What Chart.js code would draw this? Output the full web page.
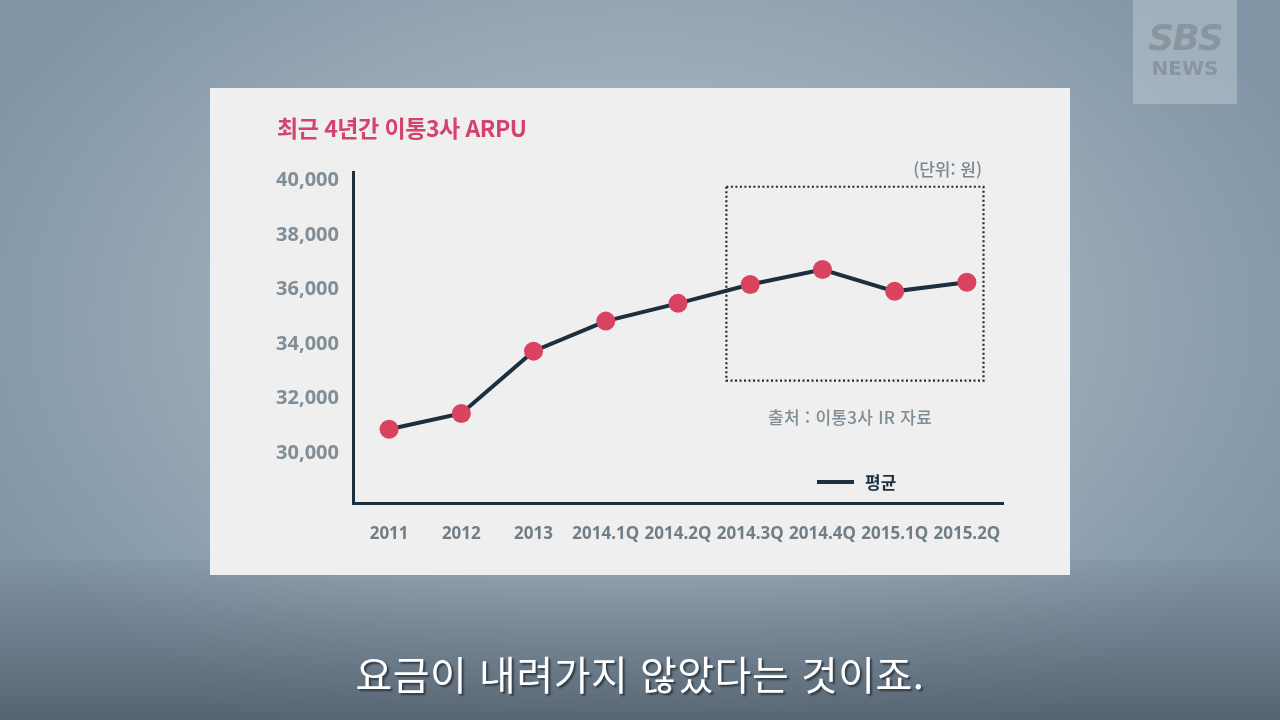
<!DOCTYPE html>
<html lang="ko">
<head>
<meta charset="utf-8">
<script src="https://cdn.jsdelivr.net/npm/chart.js@4"></script>
<style>
  html, body { margin: 0; padding: 0; }
  body {
    width: 1280px; height: 720px; overflow: hidden; position: relative;
    font-family: "Noto Sans CJK KR", "Noto Sans", sans-serif;
    background: radial-gradient(ellipse 720px 480px at 640px 320px, #b6c2cb 0%, #9aabb8 55%, #8295a6 100%);
  }
  .bottom-shade {
    position: absolute; left: 0; top: 560px; width: 1280px; height: 160px;
    background: linear-gradient(to bottom, rgba(90,106,120,0.1) 0%, rgba(80,94,108,0.5) 55%, rgba(70,82,94,0.72) 100%);
  }
  .card {
    position: absolute; left: 210px; top: 88px; width: 860px; height: 487px;
    background: #efeff0;
  }
  canvas { position: absolute; left: 0; top: 0; }
  .title {
    position: absolute; left: 277px; top: 110px; font-size: 23px; font-weight: 700;
    color: #d3436b; letter-spacing: -0.5px;
  }
  .unit {
    position: absolute; right: 298px; top: 156px; font-size: 17px; font-weight: 500; color: #7a8890;
  }
  .source {
    position: absolute; left: 768px; top: 404px; font-size: 17px; font-weight: 500; color: #7f8c94;
    letter-spacing: 0.3px;
  }
  .legend {
    position: absolute; left: 817px; top: 469px; font-size: 17px; font-weight: 700; color: #1d3040;
  }
  .legend span {
    display: inline-block; width: 37px; height: 4px; background: #1d3040;
    vertical-align: middle; margin-right: 11px; position: relative; top: -2px;
  }
  .subtitle {
    position: absolute; left: 0; width: 1280px; top: 644px; text-align: center;
    font-size: 40px; font-weight: 400; color: #ffffff; letter-spacing: 0.5px;
    text-shadow: 2px 2px 2px rgba(30,40,50,0.75);
  }
  .logo {
    position: absolute; left: 1133px; top: 0; width: 104px; height: 104px;
    background: rgba(190,202,210,0.5); text-align: center; color: #8996a0;
  }
  .logo .sbs { font-family: "DejaVu Sans", sans-serif; font-size: 36px; font-weight: 900; font-style: italic; line-height: 36px; margin-top: 20px; letter-spacing: -2px; }
  .logo .news { font-family: "DejaVu Sans", sans-serif; font-size: 20px; font-weight: 700; line-height: 24px; }
</style>
</head>
<body>
<div class="bottom-shade"></div>
<div class="card"></div>
<canvas id="arpuChart" width="1280" height="720"></canvas>
<div class="title">최근 4년간 이통3사 ARPU</div>
<div class="unit">(단위: 원)</div>
<div class="source">출처 : 이통3사 IR 자료</div>
<div class="legend"><span></span>평균</div>
<div class="subtitle">요금이 내려가지 않았다는 것이죠.</div>
<div class="logo"><div class="sbs">SBS</div><div class="news">NEWS</div></div>

<script>
// 데이터
const labels = ['2011', '2012', '2013', '2014.1Q', '2014.2Q', '2014.3Q', '2014.4Q', '2015.1Q', '2015.2Q'];
const arpu = [30880, 31460, 33740, 34840, 35490, 36180, 36730, 35930, 36260];
const yTicks = [30000, 32000, 34000, 36000, 38000, 40000];

// 점선 박스 (2014.3Q ~ 2015.2Q 구간 강조)
const boxRange = { from: '2014.3Q', to: '2015.2Q', top: 39760, bottom: 32660 };

const dottedBox = {
  id: 'dottedBox',
  afterDatasetsDraw(chart) {
    const { ctx, scales: { x, y } } = chart;
    const step = x.getPixelForValue(1) - x.getPixelForValue(0);
    const left = x.getPixelForValue(labels.indexOf(boxRange.from)) - step * 0.33;
    const right = x.getPixelForValue(labels.indexOf(boxRange.to)) + step * 0.23;
    const top = y.getPixelForValue(boxRange.top);
    const bottom = y.getPixelForValue(boxRange.bottom);
    ctx.save();
    ctx.strokeStyle = '#1f2a33';
    ctx.lineWidth = 2.2;
    ctx.setLineDash([2, 2.5]);
    ctx.strokeRect(left, top, right - left, bottom - top);
    ctx.restore();
  }
};

const ctx = document.getElementById('arpuChart').getContext('2d');
const chart = new Chart(ctx, {
  type: 'line',
  data: {
    labels: labels,
    datasets: [{
      label: '평균',
      data: arpu,
      borderColor: '#1b2f3e',
      borderWidth: 4,
      tension: 0,
      pointRadius: 9.5,
      pointBackgroundColor: '#d9435f',
      pointBorderColor: '#d9435f',
      pointBorderWidth: 0
    }]
  },
  options: {
    responsive: false,
    animation: false,
    layout: { padding: { left: 260, right: 277, top: 172, bottom: 160 } },
    plugins: {
      legend: { display: false },
      tooltip: { enabled: false }
    },
    scales: {
      x: {
        offset: true,
        grid: { display: false },
        border: { display: true, color: '#1b2f3e', width: 3 },
        ticks: {
          color: '#707e87',
          padding: 13,
          maxRotation: 0,
          autoSkip: false,
          font: { family: 'Noto Sans', size: 17, weight: '700' }
        },
        afterFit(scale) { scale.height = 57; }
      },
      y: {
        min: 28180,
        max: 40300,
        grid: { display: false },
        border: { display: true, color: '#1b2f3e', width: 3 },
        afterBuildTicks(scale) { scale.ticks = yTicks.map(v => ({ value: v })); },
        ticks: {
          color: '#808e97',
          padding: 6,
          font: { family: 'Noto Sans', size: 20, weight: '700' },
          callback: v => v.toLocaleString('en-US')
        },
        afterFit(scale) { scale.width = 93; }
      }
    }
  },
  plugins: [dottedBox]
});
</script>
</body>
</html>
